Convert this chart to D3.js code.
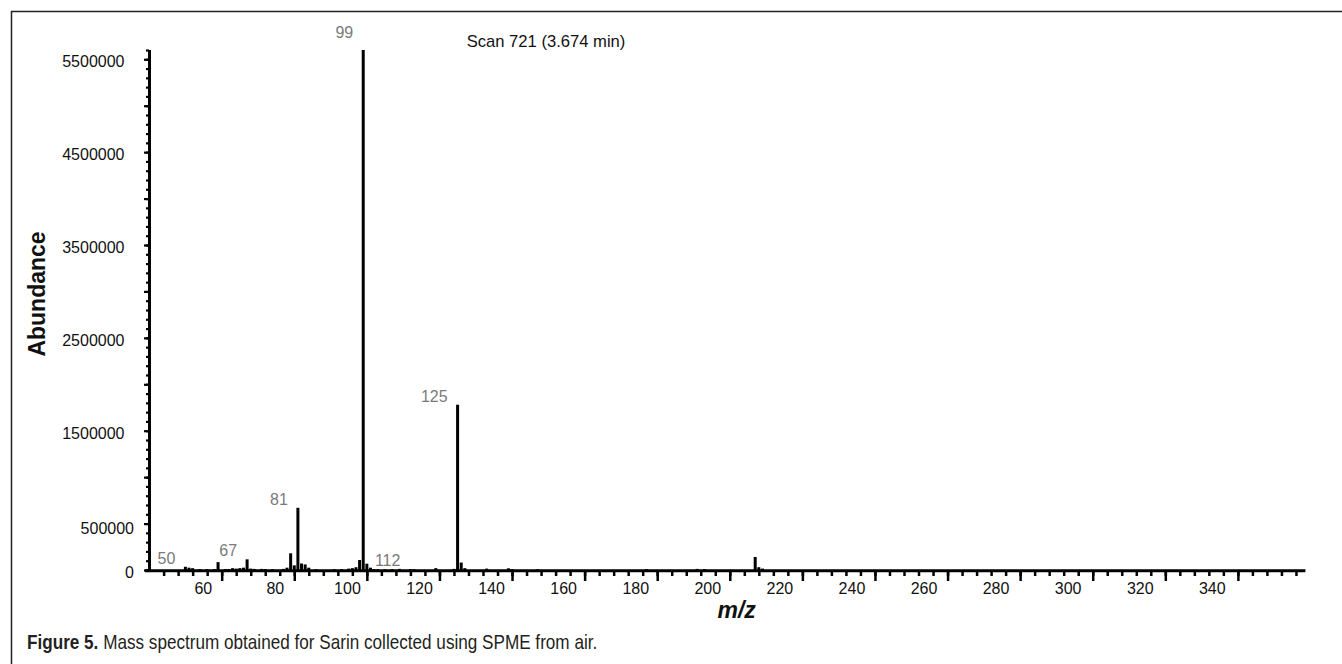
<!DOCTYPE html>
<html>
<head>
<meta charset="utf-8">
<script src="https://cdn.jsdelivr.net/npm/d3@7"></script>
<style>
  html, body { margin: 0; padding: 0; background: #fff; }
  svg { display: block; }
</style>
</head>
<body>
<svg id="chart" width="1342" height="664"></svg>
<script>
// Ion m/z values detected in the scan and their abundances
const massToCharge = [50, 51, 52, 54, 56, 58, 59, 61, 62, 63, 64, 65, 66, 67, 68, 69, 71, 72, 74, 77, 78, 79, 80, 81, 82, 83, 84, 86,
  91, 93, 95, 96, 97, 98, 99, 100, 101, 102, 103, 105, 107, 109, 112, 113, 119, 124, 125, 126, 127, 133, 139, 140, 147,
  177, 191, 193, 207, 208, 209];
const abundance = [35000, 25000, 20000, 10000, 10000, 8000, 85000, 10000, 10000, 20000, 15000, 20000, 25000, 115000, 15000, 12000, 12000, 10000, 8000, 12000, 25000, 180000, 50000, 670000, 70000, 60000, 25000, 8000,
  8000, 10000, 15000, 20000, 30000, 108000, 5700000, 68000, 25000, 10000, 8000, 8000, 10000, 12000, 10000, 8000, 20000, 12000, 1780000, 80000, 20000, 15000, 18000, 10000, 8000,
  10000, 12000, 10000, 140000, 30000, 15000];

// Ions annotated with their m/z
const labelledIons = [50, 67, 81, 99, 112, 125];

// Axis ticks and labels
const xMinorTicks = d3.range(44, 357, 4);
const xMajorTicks = d3.range(60, 357, 20);
const xTickLabels = [60, 80, 100, 120, 140, 160, 180, 200, 220, 240, 260, 280, 300, 320, 340];
const yMinorTicks = d3.range(0, 5600001, 100000);
const yMajorTicks = d3.range(0, 5600001, 500000);
const yTickLabels = [0, 500000, 1500000, 2500000, 3500000, 4500000, 5500000];

const titleText = "Scan 721 (3.674 min)";
const xTitle = "m/z";
const yTitle = "Abundance";
const captionLead = "Figure 5.";
const captionBody = " Mass spectrum obtained for Sarin collected using SPME from air.";

const svg = d3.select("#chart");
const sans = "'Liberation Sans', Arial, Helvetica, sans-serif";

const x = d3.scaleLinear().domain([40, 358.6]).range([149.1, 1305.4]);
const y = d3.scaleLinear().domain([0, 5600000]).range([570, 50]);
// tick numbers are printed on their own, slightly offset, spacing
const xLabelPos = d3.scaleLinear().domain([60, 340]).range([203.3, 1212.3]);

// frame
svg.append("line").attr("x1", 11).attr("x2", 1342).attr("y1", 11.5).attr("y2", 11.5)
  .attr("stroke", "#222").attr("stroke-width", 1.5);
svg.append("line").attr("x1", 11.5).attr("x2", 11.5).attr("y1", 11).attr("y2", 664)
  .attr("stroke", "#222").attr("stroke-width", 1.5);

// title
svg.append("text").attr("x", 466.7).attr("y", 47)
  .attr("font-family", sans).attr("font-size", 16.6).attr("fill", "#111")
  .text(titleText);

// clip peaks to the plotting range
svg.append("clipPath").attr("id", "plot-clip")
  .append("rect").attr("x", 140).attr("y", y.range()[1])
  .attr("width", 1180).attr("height", y.range()[0] - y.range()[1] + 2);

const peaks = massToCharge.map((m, i) => ({ mz: m, value: abundance[i] }));

svg.append("g").attr("clip-path", "url(#plot-clip)")
  .selectAll("line").data(peaks).join("line")
  .attr("x1", d => x(d.mz)).attr("x2", d => x(d.mz))
  .attr("y1", y(0)).attr("y2", d => y(d.value))
  .attr("stroke", "#000").attr("stroke-width", 3);

// x axis: minor and major ticks below a heavy baseline
const xMinor = d3.axisBottom(x).tickValues(xMinorTicks).tickSize(6).tickSizeOuter(0).tickFormat("");
const xMajor = d3.axisBottom(x).tickValues(xMajorTicks).tickSize(11).tickSizeOuter(0).tickFormat("");
const gxMinor = svg.append("g").attr("transform", `translate(0,${y(0)})`).call(xMinor);
const gxMajor = svg.append("g").attr("transform", `translate(0,${y(0)})`).call(xMajor);
[gxMinor, gxMajor].forEach(g => {
  g.select(".domain").remove();
  g.selectAll(".tick line").attr("stroke", "#000").attr("stroke-width", 2.5);
});
svg.append("line").attr("x1", 145).attr("x2", x.range()[1])
  .attr("y1", y(0) + 0.7).attr("y2", y(0) + 0.7)
  .attr("stroke", "#000").attr("stroke-width", 3);

svg.append("g").selectAll("text").data(xTickLabels).join("text")
  .attr("x", d => xLabelPos(d)).attr("y", 593.5)
  .attr("text-anchor", "middle")
  .attr("font-family", sans).attr("font-size", 16).attr("fill", "#111")
  .text(d => d);

// y axis: ticks point left
const yMinor = d3.axisLeft(y).tickValues(yMinorTicks).tickSize(3).tickSizeOuter(0).tickFormat("");
const yMajor = d3.axisLeft(y).tickValues(yMajorTicks).tickSize(5).tickSizeOuter(0).tickFormat("");
const gyMinor = svg.append("g").attr("transform", "translate(149,0)").call(yMinor);
const gyMajor = svg.append("g").attr("transform", "translate(149,0)").call(yMajor);
[gyMinor, gyMajor].forEach(g => {
  g.select(".domain").remove();
  g.selectAll(".tick line").attr("stroke", "#000").attr("stroke-width", 2.2);
});
svg.append("line").attr("x1", 149.5).attr("x2", 149.5)
  .attr("y1", y.range()[1]).attr("y2", y(0) + 2)
  .attr("stroke", "#000").attr("stroke-width", 3);

svg.append("g").selectAll("text").data(yTickLabels).join("text")
  .attr("x", d => d < 1000000 ? 134 : 124.5)
  .attr("y", d => y(d) + (d === 500000 ? 10.5 : 8))
  .attr("text-anchor", "end")
  .attr("font-family", sans).attr("font-size", 16).attr("fill", "#111")
  .text(d => d);

// axis titles
svg.append("text").attr("x", 736.7).attr("y", 618)
  .attr("text-anchor", "middle")
  .attr("font-family", sans).attr("font-size", 23)
  .attr("font-weight", "bold").attr("font-style", "italic").attr("fill", "#111")
  .text(xTitle);
svg.append("text")
  .attr("transform", "translate(45,294) rotate(-90)")
  .attr("text-anchor", "middle")
  .attr("font-family", sans).attr("font-size", 23)
  .attr("font-weight", "bold").attr("fill", "#111")
  .text(yTitle);

// m/z annotations for the main ions
const labelled = peaks.filter(p => labelledIons.includes(p.mz));
svg.append("g").selectAll("text").data(labelled).join("text")
  .attr("x", d => x(d.mz) - 10)
  .attr("y", d => y(d.value) - 3)
  .attr("text-anchor", "end")
  .attr("font-family", sans).attr("font-size", 16).attr("fill", "#7a7a7a")
  .text(d => d.mz);

// caption, horizontally condensed to a fixed width
const capGroup = svg.append("g");
const cap = capGroup.append("text").attr("x", 0).attr("y", 0)
  .attr("font-family", sans)
  .attr("font-size", 20.5).attr("fill", "#231f20");
cap.append("tspan").attr("font-weight", "bold").text(captionLead);
cap.append("tspan").text(captionBody);
const capWidth = cap.node().getComputedTextLength();
capGroup.attr("transform", `translate(27,649) scale(${571 / capWidth},1)`);
</script>
</body>
</html>
